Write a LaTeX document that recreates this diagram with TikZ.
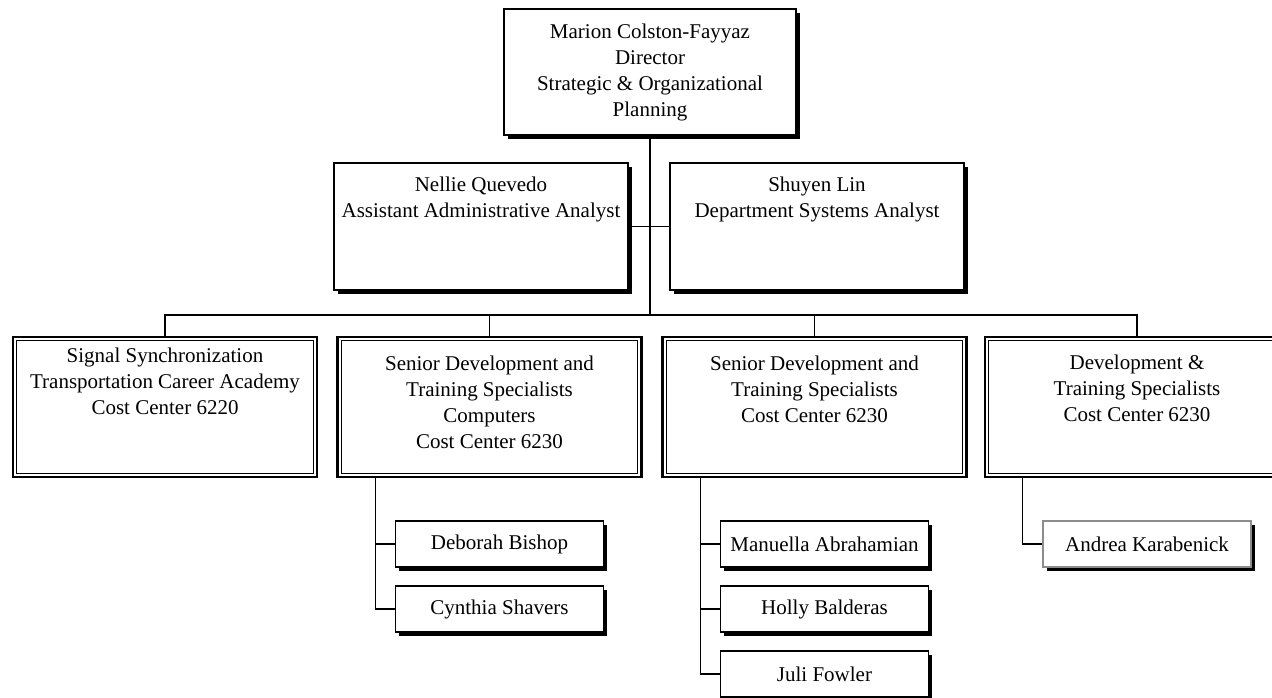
\documentclass[tikz,border=0pt]{standalone}
\usepackage{fontspec}
\setmainfont{Liberation Serif}
\usetikzlibrary{positioning, shadows}

\tikzset{
  font=\fontsize{21}{26}\selectfont,
  post/.style={
    draw=#1, fill=white, line width=1.3pt, inner sep=0pt, align=center,
    minimum width=294pt, minimum height=127pt,
    drop shadow={shadow xshift=3.5pt, shadow yshift=-3.5pt, fill=black, opacity=1}
  },
  post/.default=black,
  unit/.style={
    draw=black, fill=white, line width=2.6pt, inner sep=0pt,
    minimum width=304pt, minimum height=140pt
  },
  staff/.style={post=#1, minimum width=208pt, minimum height=46pt},
  staff/.default=black,
  txt/.style={inner sep=0pt, align=center},
  wire/.style={draw=black, line width=1.1pt}
}

\begin{document}
\begin{tikzpicture}[x=1pt, y=-1pt]
  \useasboundingbox (0,0) rectangle (1272,697);

  % director
  \node[post, minimum width=292pt, minimum height=126pt] (dir) at (650,72)
    {Marion Colston-Fayyaz\\Director\\Strategic \& Organizational\\Planning};
  \coordinate (bus) at (650,315);
  \draw[wire] (dir.south) -- (bus);

  % analysts
  \node[post] (nellie) at (481,226.5) {};
  \node[txt, below=14pt of nellie.north] (nellie-t) {Nellie Quevedo\\Assistant Administrative Analyst};
  \node[post] (shuyen) at (817,226.5) {};
  \node[txt, below=14pt of shuyen.north] (shuyen-t) {Shuyen Lin\\Department Systems Analyst};
  \draw[wire] (nellie.east) -- (shuyen.west);

  % cost centers
  \foreach \name/\x/\dy/\lab in {
    sync/165/12/{Signal Synchronization\\Transportation Career Academy\\Cost Center 6220},
    comp/489.5/20/{Senior Development and\\Training Specialists\\Computers\\Cost Center 6230},
    sdts/814.5/20/{Senior Development and\\Training Specialists\\Cost Center 6230},
    dts/1137/19/{Development \&\\Training Specialists\\Cost Center 6230}} {
    \node[unit] (\name) at (\x,407) {};
    \draw[line width=0.9pt] ([shift={(5pt,-5pt)}]\name.north west) rectangle ([shift={(-5pt,5pt)}]\name.south east);
    \node[txt, below=\dy pt of \name.north] (\name-t) {\lab};
    \draw[wire] (\name.north) |- (bus);
  }

  % specialists
  \foreach \name/\unit/\x/\y/\col/\who in {
    deb/comp/499.5/544/black/Deborah Bishop,
    cyn/comp/499.5/609/black/Cynthia Shavers,
    man/sdts/824.5/544/black/Manuella Abrahamian,
    hol/sdts/824.5/609/black/Holly Balderas,
    jul/sdts/824.5/674/black/Juli Fowler,
    and/dts/1147/544/black!45/Andrea Karabenick} {
    \draw[wire] (\unit.south west) ++(39pt,0) |- (\x-104,\y);
    \node[staff=\col] (\name) at (\x,\y) {\who};
  }
\end{tikzpicture}
\end{document}
